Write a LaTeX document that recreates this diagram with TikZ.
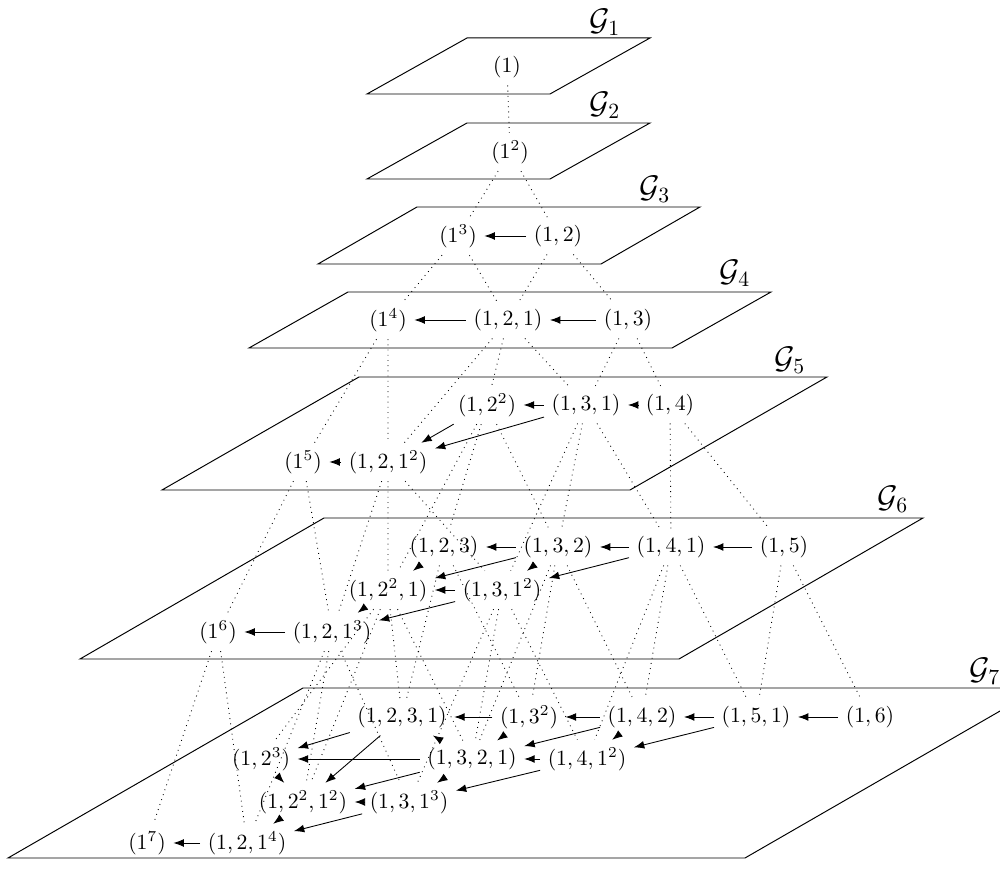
\documentclass[tikz,border=0pt]{standalone}
\usepackage{tikz}
\usetikzlibrary{arrows.meta}

\begin{document}
\begin{tikzpicture}[
  x=0.0162cm, y=0.0162cm,
  plane/.style={draw=black, line width=0.45pt},
  glabel/.style={font=\Large},
  cover/.style={dotted},
  move/.style={-{Latex}},
]
\useasboundingbox (0,0) rectangle (1000,874);

% the seven layers
\draw[plane] (367,780) -- (550,780) -- (650,836) -- (467,836) -- cycle;
\draw[plane] (367,695) -- (550,695) -- (650,751) -- (467,751) -- cycle;
\draw[plane] (318,610) -- (601,610) -- (700,667) -- (417,667) -- cycle;
\draw[plane] (249,526) -- (672,526) -- (771,582) -- (348,582) -- cycle;
\draw[plane] (162,384) -- (630,384) -- (827,497) -- (359,497) -- cycle;
\draw[plane] (80,215) -- (679,215) -- (923,356) -- (324,356) -- cycle;
\draw[plane] (8,16) -- (745,16) -- (1040,186) -- (303,186) -- cycle;

\node[glabel] (g1) at (605,852) {$\mathcal{G}_1$};
\node[glabel] (g2) at (605,769) {$\mathcal{G}_2$};
\node[glabel] (g3) at (655,685) {$\mathcal{G}_3$};
\node[glabel] (g4) at (735,601) {$\mathcal{G}_4$};
\node[glabel] (g5) at (790,514) {$\mathcal{G}_5$};
\node[glabel] (g6) at (893,375) {$\mathcal{G}_6$};
\node[glabel] (g7) at (985,203) {$\mathcal{G}_7$};

% compositions
\node (n1) at (507,807) {$(1)$};

\node (n11) at (510,722) {$(1^2)$};

\node (n111) at (458,638) {$(1^3)$};
\node (n12) at (558,638) {$(1,2)$};

\node (n1111) at (388,554) {$(1^4)$};
\node (n121) at (508,554) {$(1,2,1)$};
\node (n13) at (628,554) {$(1,3)$};

\node (n122) at (487,469) {$(1,2^2)$};
\node (n131) at (586,469) {$(1,3,1)$};
\node (n14) at (670,469) {$(1,4)$};
\node (n11111) at (303,412) {$(1^5)$};
\node (n1211) at (388,412) {$(1,2,1^2)$};

\node (n123) at (444,327) {$(1,2,3)$};
\node (n132) at (558,327) {$(1,3,2)$};
\node (n141) at (671,327) {$(1,4,1)$};
\node (n15) at (784,327) {$(1,5)$};
\node (n1221) at (388,284) {$(1,2^2,1)$};
\node (n1311) at (502,284) {$(1,3,1^2)$};
\node (n111111) at (218,242) {$(1^6)$};
\node (n12111) at (332,242) {$(1,2,1^3)$};

\node (n1231) at (402,157) {$(1,2,3,1)$};
\node (n133) at (529,157) {$(1,3^2)$};
\node (n142) at (642,157) {$(1,4,2)$};
\node (n151) at (756,157) {$(1,5,1)$};
\node (n16) at (870,157) {$(1,6)$};
\node (n1222) at (261,115) {$(1,2^3)$};
\node (n1321) at (472,115) {$(1,3,2,1)$};
\node (n1411) at (587,115) {$(1,4,1^2)$};
\node (n12211) at (303,72) {$(1,2^2,1^2)$};
\node (n13111) at (409,72) {$(1,3,1^3)$};
\node (n1111111) at (147,31) {$(1^7)$};
\node (n121111) at (247,31) {$(1,2,1^4)$};

% links between layers
\draw[cover] (n1) -- (n11);
\draw[cover] (n11) -- (n111) (n11) -- (n12);
\draw[cover] (n111) -- (n1111) (n111) -- (n121);
\draw[cover] (n12) -- (n121) (n12) -- (n13);
\draw[cover] (n1111) -- (n11111) (n1111) -- (n1211);
\draw[cover] (n121) -- (n1211) (n121) -- (n122) (n121) -- (n131);
\draw[cover] (n13) -- (n131) (n13) -- (n14);
\draw[cover] (n11111) -- (n111111) (n11111) -- (n12111);
\draw[cover] (n1211) -- (n12111) (n1211) -- (n1311) (n1211) -- (n1221);
\draw[cover] (n122) -- (n1221) (n122) -- (n132) (n122) -- (n123);
\draw[cover] (n131) -- (n1311) (n131) -- (n141) (n131) -- (n132);
\draw[cover] (n14) -- (n141) (n14) -- (n15);
\draw[cover] (n111111) -- (n1111111) (n111111) -- (n121111);
\draw[cover] (n12111) -- (n121111) (n12111) -- (n13111) (n12111) -- (n12211);
\draw[cover] (n1221) -- (n12211) (n1221) -- (n1321) (n1221) -- (n1231) (n1221) -- (n1222);
\draw[cover] (n1311) -- (n13111) (n1311) -- (n1411) (n1311) -- (n1321);
\draw[cover] (n123) -- (n1231) (n123) -- (n133);
\draw[cover] (n132) -- (n1321) (n132) -- (n142) (n132) -- (n133);
\draw[cover] (n141) -- (n1411) (n141) -- (n151) (n141) -- (n142);
\draw[cover] (n15) -- (n151) (n15) -- (n16);

% moves inside a layer
\draw[move] (n12) -- (n111);

\draw[move] (n13) -- (n121);
\draw[move] (n121) -- (n1111);

\draw[move] (n14) -- (n131);
\draw[move] (n131) -- (n122);
\draw[move] (n131) -- (n1211);
\draw[move] (n122) -- (n1211);
\draw[move] (n1211) -- (n11111);

\draw[move] (n15) -- (n141);
\draw[move] (n141) -- (n132);
\draw[move] (n141) -- (n1311);
\draw[move] (n132) -- (n123);
\draw[move] (n132) -- (n1221);
\draw[move] (n132) -- (n1311);
\draw[move] (n123) -- (n1221);
\draw[move] (n1311) -- (n1221);
\draw[move] (n1311) -- (n12111);
\draw[move] (n1221) -- (n12111);
\draw[move] (n12111) -- (n111111);

\draw[move] (n16) -- (n151);
\draw[move] (n151) -- (n142);
\draw[move] (n151) -- (n1411);
\draw[move] (n142) -- (n133);
\draw[move] (n142) -- (n1321);
\draw[move] (n142) -- (n1411);
\draw[move] (n133) -- (n1231);
\draw[move] (n133) -- (n1321);
\draw[move] (n1321) -- (n1231);
\draw[move] (n1321) -- (n1222);
\draw[move] (n1321) -- (n12211);
\draw[move] (n1321) -- (n13111);
\draw[move] (n1411) -- (n1321);
\draw[move] (n1411) -- (n13111);
\draw[move] (n1231) -- (n1222);
\draw[move] (n1231) -- (n12211);
\draw[move] (n1222) -- (n12211);
\draw[move] (n13111) -- (n12211);
\draw[move] (n13111) -- (n121111);
\draw[move] (n12211) -- (n121111);
\draw[move] (n121111) -- (n1111111);
\end{tikzpicture}
\end{document}
